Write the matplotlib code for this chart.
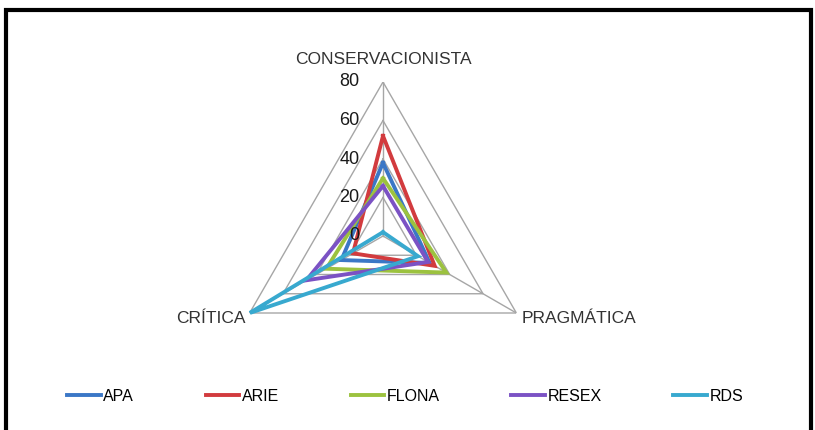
import numpy as np
import matplotlib
matplotlib.use("Agg")
import matplotlib.pyplot as plt
from matplotlib.patches import Rectangle

# Scores per perspective for each protected-area category
categories = ["CONSERVACIONISTA", "PRAGMÁTICA", "CRÍTICA"]
apa = [38, 28, 25]
arie = [52, 31, 18]
flona = [30, 38, 34]
resex = [26, 27, 46]
rds = [2, 21, 80]

series_names = ["APA", "ARIE", "FLONA", "RESEX", "RDS"]
series_values = [apa, arie, flona, resex, rds]
series_colors = ["#3b77c6", "#d23b3e", "#9cc23f", "#7b52c4", "#38a9cf"]
ring_values = [20, 40, 60, 80]

plt.rcParams["font.family"] = ["Liberation Sans", "DejaVu Sans"]

fig = plt.figure(figsize=(8.15, 4.3), dpi=100)
ax = fig.add_axes([229 / 815, 40 / 430, 308 / 815, 308 / 430], projection="polar")
ax.set_theta_offset(np.pi / 2)
ax.set_theta_direction(-1)
ax.set_ylim(0, 80)
ax.grid(False)
ax.spines["polar"].set_visible(False)
ax.set_xticks([])
ax.set_yticks([])
ax.patch.set_alpha(0)

angles = np.linspace(0, 2 * np.pi, len(categories), endpoint=False)
closed = np.append(angles, angles[0])

# triangular grid and spokes
for r in ring_values:
    ax.plot(closed, [r] * len(closed), color="#a6a6a6", lw=1.0, zorder=1)
for a in angles:
    ax.plot([a, a], [0, 80], color="#a6a6a6", lw=1.0, zorder=1)

for name, vals, col in zip(series_names, series_values, series_colors):
    ax.plot(closed, vals + [vals[0]], color=col, lw=2.8, label=name, zorder=3,
            solid_joinstyle="miter")

# radial value labels along the top spoke
for r in [0] + ring_values:
    ax.annotate(str(r), xy=(0, r), xytext=(-17, 0), textcoords="offset points",
                ha="right", va="center", fontsize=13, color="#1a1a1a",
                annotation_clip=False)

# category labels
lab_kw = dict(textcoords="offset points", fontsize=12.5, color="#333333",
              annotation_clip=False)
ax.annotate(categories[0], xy=(0, 80), xytext=(0, 11), ha="center", va="bottom", **lab_kw)
ax.annotate(categories[1], xy=(angles[1], 80), xytext=(4, -4), ha="left", va="center", **lab_kw)
ax.annotate(categories[2], xy=(angles[2], 80), xytext=(-3, -4), ha="right", va="center", **lab_kw)

fig.legend(loc="center", bbox_to_anchor=(0.497, 0.079), ncol=5, frameon=False,
           fontsize=11.5, handlelength=2.1, handletextpad=0.15, columnspacing=4.5)

# outer frame
fig.patches.append(Rectangle((6 / 815, -0.05), 805 / 815, 1 - 10 / 430 + 0.05,
                             transform=fig.transFigure, fill=False,
                             edgecolor="black", lw=3, clip_on=False))

fig.savefig("out.png", dpi=100)
